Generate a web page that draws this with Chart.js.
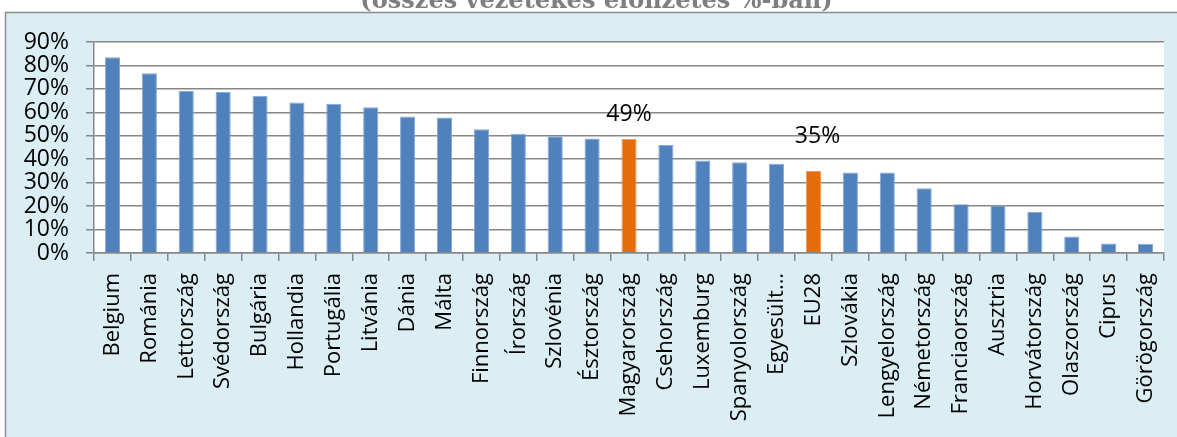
<!DOCTYPE html>
<html>
<head>
<meta charset="utf-8">
<script src="https://cdn.jsdelivr.net/npm/chart.js@4"></script>
<style>
  html, body { margin: 0; padding: 0; background: #fff; }
  #wrap { position: relative; width: 1177px; height: 437px; overflow: hidden; }
  #cim {
    position: absolute; left: 0; top: -12px; width: 1193px; text-align: center;
    font: bold 24px/24px "DejaVu Serif", serif; color: #7f7f7f; z-index: 2;
  }
  canvas { position: absolute; left: 0; top: 0; }
</style>
</head>
<body>
<div id="wrap">
  <div id="cim">(összes vezetékes előfizetés %-ban)</div>
  <canvas id="grafikon" width="1177" height="437"></canvas>
</div>
<script>
// orszagok, sorrendben ahogy a kepen
var orszagok = ['Belgium', 'Románia', 'Lettország', 'Svédország', 'Bulgária', 'Hollandia', 'Portugália',
  'Litvánia', 'Dánia', 'Málta', 'Finnország', 'Írország', 'Szlovénia', 'Észtország', 'Magyarország',
  'Csehország', 'Luxemburg', 'Spanyolország', 'Egyesült…', 'EU28', 'Szlovákia', 'Lengyelország',
  'Németország', 'Franciaország', 'Ausztria', 'Horvátország', 'Olaszország', 'Ciprus', 'Görögország'];
// aranyok %-ban
var aranyok = [83.5, 76.7, 69.1, 68.7, 67.1, 64.2, 63.7, 62.2, 58.2, 57.8, 52.8, 50.9, 49.8, 48.8, 48.6,
  46.1, 39.5, 38.7, 38.1, 35.0, 34.3, 34.3, 27.6, 20.8, 20.3, 17.5, 7.0, 4.0, 3.9];
// kiemelt oszlopok (narancs + felirat)
var kiemelt = ['Magyarország', 'EU28'];
var y_min = 0;
var y_max = 90;
var y_lepes = 10;

var kek = '#4f81bd';
var narancs = '#e46c0a';
var racs_szin = '#878787';

var szinek = orszagok.map(function(o) { return kiemelt.indexOf(o) >= 0 ? narancs : kek; });
var keret_szinek = orszagok.map(function(o) { return kiemelt.indexOf(o) >= 0 ? '#ee9a5a' : '#86a8d4'; });

//hatter: kek doboz kerettel, feher rajzterulet
var hatter = {
  id: 'hatter',
  beforeDraw: function(chart) {
    var ctx = chart.ctx;
    var a = chart.chartArea;
    ctx.save();
    ctx.fillStyle = '#ffffff';
    ctx.fillRect(0, 0, chart.width, chart.height);
    ctx.fillStyle = '#daeef3';
    ctx.fillRect(5, 12, chart.width - 5, chart.height - 12);
    ctx.strokeStyle = '#8c8c8c';
    ctx.lineWidth = 1.5;
    ctx.beginPath();
    ctx.moveTo(5.5, chart.height);
    ctx.lineTo(5.5, 12.5);
    ctx.lineTo(chart.width, 12.5);
    ctx.stroke();
    ctx.fillStyle = '#ffffff';
    ctx.fillRect(a.left, a.top, a.right - a.left, a.bottom - a.top);
    ctx.restore();
  }
};

//feliratok a kiemelt oszlopok folott
var felirat_emeles = { 'Magyarország': [0, 18], 'EU28': [4, 28] };
var feliratok = {
  id: 'feliratok',
  afterDatasetsDraw: function(chart) {
    var ctx = chart.ctx;
    var meta = chart.getDatasetMeta(0);
    ctx.save();
    ctx.font = '23px "Open Sans"';
    ctx.fillStyle = '#000000';
    ctx.textAlign = 'center';
    ctx.textBaseline = 'alphabetic';
    for (var i = 0; i < orszagok.length; i++) {
      if (kiemelt.indexOf(orszagok[i]) < 0) continue;
      var bar = meta.data[i];
      var e = felirat_emeles[orszagok[i]] || [0, 18];
      ctx.fillText(Math.round(aranyok[i]) + '%', bar.x + e[0], bar.y - e[1]);
    }
    ctx.restore();
  }
};

var grafikon = new Chart(document.getElementById('grafikon'), {
  type: 'bar',
  data: {
    labels: orszagok,
    datasets: [{
      data: aranyok,
      backgroundColor: szinek,
      borderColor: keret_szinek,
      borderWidth: 1,
      barPercentage: 0.41,
      categoryPercentage: 1
    }]
  },
  options: {
    responsive: false,
    animation: false,
    layout: { padding: { left: 0, top: 42, right: 0, bottom: 0 } },
    plugins: {
      legend: { display: false },
      title: { display: false },
      tooltip: { enabled: false }
    },
    scales: {
      x: {
        grid: { offset: true, drawOnChartArea: false, drawTicks: true, tickLength: 8, color: racs_szin, lineWidth: 1.5 },
        border: { display: true, color: racs_szin, width: 1.5 },
        ticks: {
          autoSkip: false, minRotation: 90, maxRotation: 90, padding: 12,
          color: '#000000', font: { family: 'Open Sans', size: 22 }
        },
        afterFit: function(scale) { scale.height = 184; scale.paddingRight = 13; }
      },
      y: {
        min: y_min, max: y_max,
        grid: { color: racs_szin, lineWidth: 1.5, tickLength: 8 },
        border: { display: true, color: racs_szin, width: 1.5 },
        ticks: {
          autoSkip: false, stepSize: y_lepes, padding: 17, color: '#000000',
          font: { family: 'Open Sans', size: 23 },
          callback: function(v) { return v + '%'; }
        },
        afterFit: function(scale) { scale.width = 94; }
      }
    }
  },
  plugins: [hatter, feliratok]
});
</script>
</body>
</html>
